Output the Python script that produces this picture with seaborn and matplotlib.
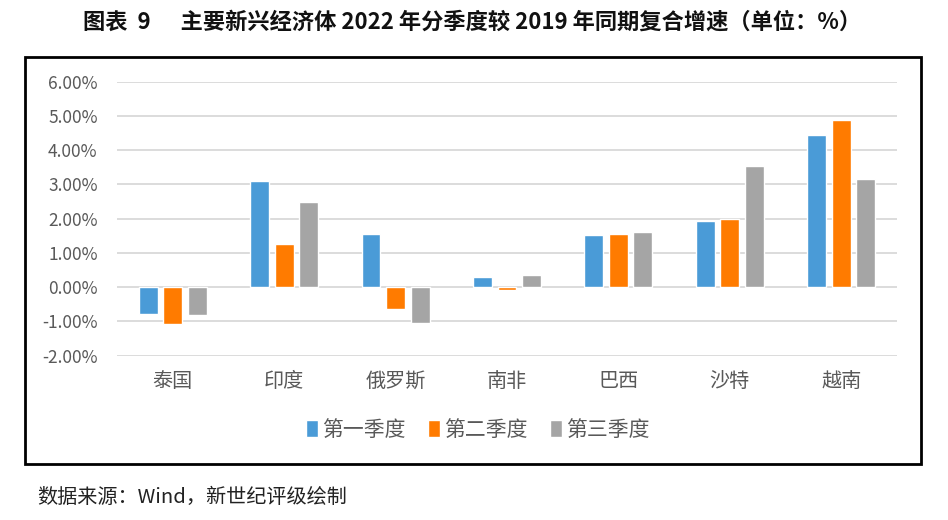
import matplotlib
matplotlib.use("Agg")
import matplotlib.pyplot as plt
import matplotlib.ticker as mticker
from matplotlib.patches import Rectangle
import pandas as pd
import seaborn as sns

# data (%)
countries = ["泰国", "印度", "俄罗斯", "南非", "巴西", "沙特", "越南"]
quarters = ["第一季度", "第二季度", "第三季度"]
q1 = [-0.79, 3.09, 1.55, 0.29, 1.51, 1.93, 4.45]
q2 = [-1.07, 1.27, -0.65, -0.08, 1.56, 2.00, 4.88]
q3 = [-0.81, 2.48, -1.05, 0.35, 1.61, 3.54, 3.15]
colors = ["#4A9BD7", "#FF7B00", "#A5A5A5"]

df = pd.DataFrame({"country": countries * 3,
                   "quarter": [q for q in quarters for _ in countries],
                   "value": q1 + q2 + q3})

sns.set_theme(style="white")
plt.rcParams['font.family'] = ['Noto Sans CJK SC', 'DejaVu Sans']

fig = plt.figure(figsize=(9.48, 5.2), dpi=100)
ax = fig.add_axes([0.1234, 0.316, 0.8228, 0.527])

sns.barplot(data=df, x="country", y="value", hue="quarter", order=countries,
            hue_order=quarters, palette=colors, width=0.66, gap=0.23,
            saturation=1, legend=True, ax=ax)

ax.set_ylim(-2, 6)
ax.set_xlim(-0.5, len(countries) - 0.5)
ax.yaxis.set_major_locator(mticker.MultipleLocator(1))
ax.yaxis.set_major_formatter(mticker.FuncFormatter(lambda v, p: f"{v:.2f}%"))
ax.grid(axis="y", color="#D9D9D9", linewidth=1.3)
ax.set_axisbelow(True)
for s in ax.spines.values():
    s.set_visible(False)
ax.set_xlabel("")
ax.set_ylabel("")
ax.tick_params(axis="y", labelsize=12.5, labelcolor="#595959", length=0, pad=14)
ax.tick_params(axis="x", labelsize=14.5, labelcolor="#595959", length=0, pad=11)

ax.legend(loc="center", bbox_to_anchor=(0.504, 1 - 430 / 520), bbox_transform=fig.transFigure,
          ncol=3, frameon=False, fontsize=15, handlelength=0.55, handleheight=0.9,
          handletextpad=0.2, columnspacing=1.1, labelcolor="#595959")

# outer frame
fig.patches.append(Rectangle((25 / 948, 1 - 464 / 520), 896 / 948, 407 / 520,
                             transform=fig.transFigure, fill=False,
                             edgecolor="black", linewidth=2))

fig.text(0.498, 1 - 22 / 520, "图表  9      主要新兴经济体 2022 年分季度较 2019 年同期复合增速（单位：%）",
         ha="center", va="center", fontsize=16, fontweight="bold", color="#111111")
fig.text(37 / 948, 1 - 497 / 520, "数据来源：Wind，新世纪评级绘制",
         ha="left", va="center", fontsize=14.5, color="#222222")

fig.savefig("out.png", dpi=100)
